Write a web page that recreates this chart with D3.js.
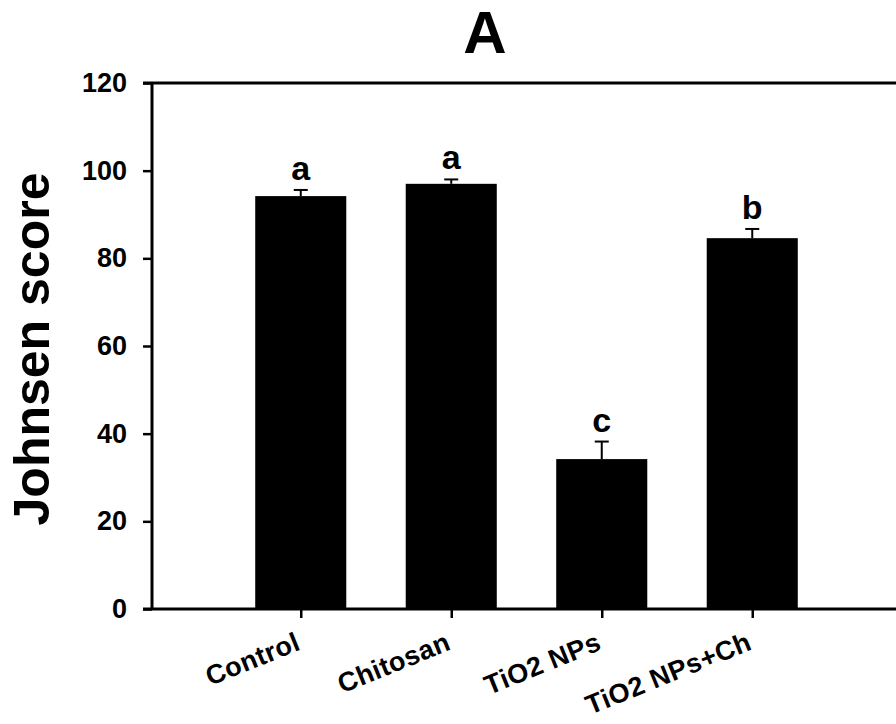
<!DOCTYPE html>
<html>
<head>
<meta charset="utf-8">
<script src="https://cdn.jsdelivr.net/npm/d3@7"></script>
<style>
  body { margin: 0; background: #fff; }
  svg { display: block; font-family: "Liberation Sans", Arial, sans-serif; font-weight: bold; }
</style>
</head>
<body>
<svg width="896" height="724"></svg>
<script>
// donnees
const categories = ["Control", "Chitosan", "TiO2 NPs", "TiO2 NPs+Ch"];
const means = [94.2, 97.0, 34.2, 84.6];
const errors = [1.4, 1.0, 4.0, 2.1];
const letters = ["a", "a", "c", "b"];
const yTicks = [0, 20, 40, 60, 80, 100, 120];

const svg = d3.select("svg");

// zone du graphe
const plotLeft = 152, plotRight = 900, plotTop = 83, plotBottom = 609;

const x = d3.scalePoint().domain(categories).range([225.5, 827.5]).padding(0.5);
const y = d3.scaleLinear().domain([0, 120]).range([plotBottom, plotTop]);
const barW = x.step() * 0.605;

// barres
svg.append("g")
  .selectAll("rect")
  .data(categories)
  .join("rect")
  .attr("x", d => x(d) - barW / 2)
  .attr("y", (d, i) => y(means[i]))
  .attr("width", barW)
  .attr("height", (d, i) => y(0) - y(means[i]))
  .attr("fill", "#000");

// barres d'erreur (partie haute seulement)
const err = svg.append("g").attr("stroke", "#000").attr("stroke-width", 2);
categories.forEach((c, i) => {
  err.append("line")
    .attr("x1", x(c)).attr("x2", x(c))
    .attr("y1", y(means[i])).attr("y2", y(means[i] + errors[i]));
  err.append("line")
    .attr("x1", x(c) - 7).attr("x2", x(c) + 7)
    .attr("y1", y(means[i] + errors[i])).attr("y2", y(means[i] + errors[i]));
});

// lettres de significativite
svg.append("g")
  .selectAll("text")
  .data(categories)
  .join("text")
  .attr("x", d => x(d))
  .attr("y", (d, i) => y(means[i] + errors[i]) - 10)
  .attr("text-anchor", "middle")
  .attr("font-size", 34)
  .text((d, i) => letters[i]);

// axe y
const yAxis = d3.axisLeft(y).tickValues(yTicks).tickSize(9).tickPadding(16);
const gy = svg.append("g").attr("transform", `translate(${plotLeft},0)`).call(yAxis);
gy.select(".domain").remove();
gy.selectAll(".tick line").attr("stroke", "#000").attr("stroke-width", 2.5);
gy.selectAll(".tick text").attr("font-size", 27).attr("font-family", null).attr("fill", "#000");

// axe x
const xAxis = d3.axisBottom(x).tickSize(9).tickFormat("");
const gx = svg.append("g").attr("transform", `translate(0,${plotBottom})`).call(xAxis);
gx.select(".domain").remove();
gx.selectAll(".tick line").attr("stroke", "#000").attr("stroke-width", 2.5);

// etiquettes inclinees
svg.append("g")
  .selectAll("text")
  .data(categories)
  .join("text")
  .attr("transform", d => `translate(${x(d) + 1},${plotBottom + 40}) rotate(-22)`)
  .attr("text-anchor", "end")
  .attr("font-size", 27)
  .attr("letter-spacing", 0.4)
  .text(d => d);

// cadre : gauche, bas, haut
const frame = svg.append("g").attr("stroke", "#000").attr("stroke-width", 3).attr("fill", "none");
frame.append("line").attr("x1", plotLeft).attr("x2", plotLeft).attr("y1", plotTop).attr("y2", plotBottom);
frame.append("line").attr("x1", plotLeft - 9).attr("x2", plotRight).attr("y1", plotBottom).attr("y2", plotBottom);
frame.append("line").attr("x1", plotLeft - 9).attr("x2", plotRight).attr("y1", plotTop).attr("y2", plotTop);

// titres
svg.append("text")
  .attr("x", 485).attr("y", 53)
  .attr("text-anchor", "middle")
  .attr("font-size", 60)
  .text("A");

svg.append("text")
  .attr("transform", `translate(49,${(plotTop + plotBottom) / 2 + 3}) rotate(-90)`)
  .attr("text-anchor", "middle")
  .attr("font-size", 50)
  .text("Johnsen score");
</script>
</body>
</html>
